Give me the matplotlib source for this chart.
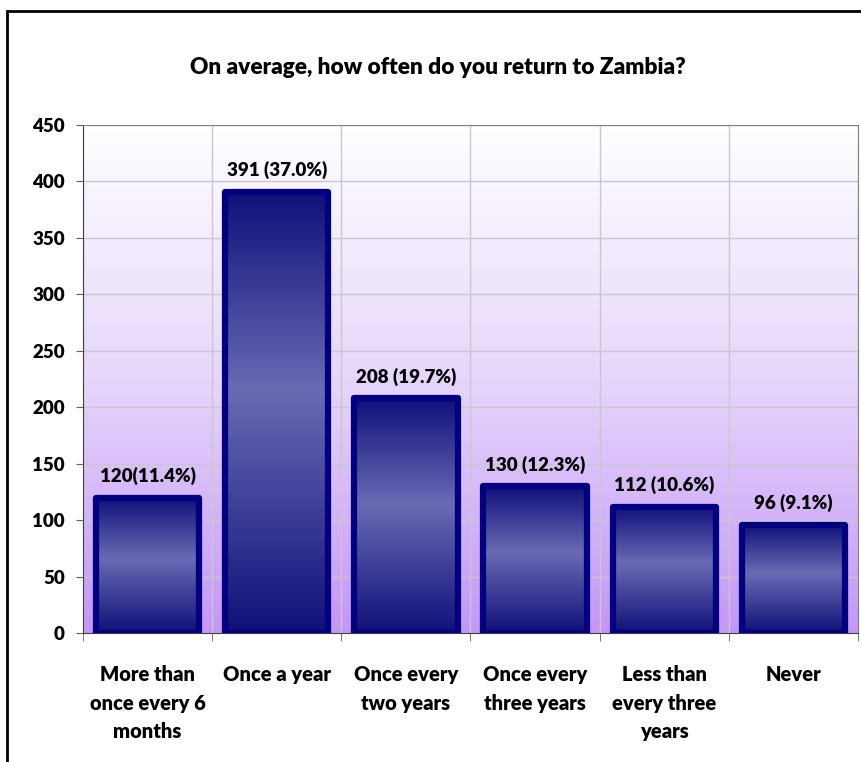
import matplotlib.pyplot as plt
import numpy as np
from matplotlib.colors import LinearSegmentedColormap
from matplotlib.patches import Rectangle

categories = [
    "More than\nonce every 6\nmonths",
    "Once a year",
    "Once every\ntwo years",
    "Once every\nthree years",
    "Less than\nevery three\nyears",
    "Never",
]
counts = [120, 391, 208, 130, 112, 96]
bar_labels = ["120(11.4%)", "391 (37.0%)", "208 (19.7%)", "130 (12.3%)", "112 (10.6%)", "96 (9.1%)"]
yticks = [0, 50, 100, 150, 200, 250, 300, 350, 400, 450]

plt.rcParams["font.family"] = ["Lato", "DejaVu Sans"]
plt.rcParams["font.weight"] = "heavy"
WT = "heavy"

W, H = 862, 762
fig = plt.figure(figsize=(W / 100, H / 100), dpi=100)

# chart frame (cut off at right and bottom like the screenshot)
fig.patches.append(Rectangle((7 / W, -0.1), 1.2, 1.1 - 11 / H, transform=fig.transFigure,
                             fill=False, lw=2, ec="black"))

fig.text(438 / W, 1 - 68 / H, "On average, how often do you return to Zambia?",
         ha="center", va="center", fontsize=16.3, fontweight=WT)

ax = fig.add_axes([83 / W, 1 - 633 / H, 775 / W, 508 / H])
ax.set_xlim(-0.5, len(categories) - 0.5)
ax.set_ylim(0, 450)

# plot area background: white at top fading to purple
bg_cmap = LinearSegmentedColormap.from_list("bg", ["#c496f8", "#e6d6fb", "#ffffff"])
grad = np.linspace(0, 1, 256).reshape(-1, 1)
ax.imshow(grad, cmap=bg_cmap, origin="lower", aspect="auto",
          extent=(-0.5, len(categories) - 0.5, 0, 450), zorder=0)

# gridlines
ax.set_yticks(yticks)
ax.set_xticks(range(len(categories)))
ax.set_xticks(np.arange(-0.5, len(categories)), minor=True)
ax.grid(True, axis="y", color="#c8c8c8", lw=1, zorder=1)
ax.grid(True, axis="x", which="minor", color="#c8c8c8", lw=1, zorder=1)
ax.grid(False, axis="x", which="major")

bar_cmap = LinearSegmentedColormap.from_list(
    "bar", [(0.0, "#10107a"), (0.55, "#6a6ab4"), (1.0, "#10107a")])
bars = ax.bar(range(len(categories)), counts, width=0.8, facecolor="none",
              edgecolor="#000080", lw=4.5, zorder=3, joinstyle="round")
for b in bars:
    x0, y0 = b.get_x(), b.get_y()
    im = ax.imshow(grad, cmap=bar_cmap, origin="lower", aspect="auto",
                   extent=(x0, x0 + b.get_width(), y0, y0 + b.get_height()), zorder=2)
    im.set_clip_path(b)

for i, (v, lab) in enumerate(zip(counts, bar_labels)):
    ax.annotate(lab, (i, v), xytext=(0, 9), textcoords="offset points",
                ha="center", va="bottom", fontsize=13.5, fontweight=WT)

ax.set_xticklabels(categories, fontsize=14.5, fontweight=WT, linespacing=1.6, va="top")
ax.tick_params(axis="x", which="major", length=0, pad=23)
ax.tick_params(axis="x", which="minor", length=6, direction="out", color="#606060")
ax.tick_params(axis="y", length=5, direction="out", color="#606060", labelsize=13.5, pad=8)
for lbl in ax.get_yticklabels():
    lbl.set_fontweight(WT)

for s in ax.spines.values():
    s.set_color("#808080")
ax.spines["left"].set_color("#404040")
ax.spines["bottom"].set_color("#404040")

fig.savefig("out.png", dpi=100)
